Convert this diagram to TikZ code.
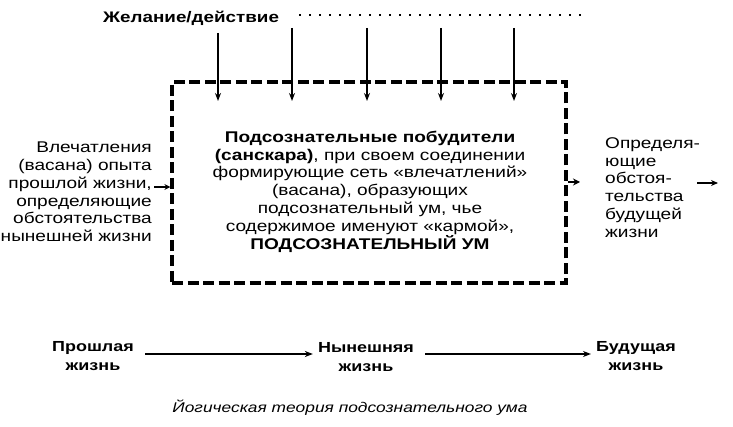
\documentclass[tikz,border=0pt]{standalone}
\usepackage{fontspec}
\setmainfont{Liberation Sans}[FakeStretch=1.23]
\usetikzlibrary{arrows.meta}
\begin{document}
\begin{tikzpicture}[x=1pt,y=-1pt,
  txt/.style={inner sep=0pt, font=\fontsize{15.5}{17.8}\selectfont},
  bld/.style={inner sep=0pt, font=\fontsize{14.6}{19}\selectfont\bfseries},
  dashbox/.style={draw, line width=3.2pt, dash pattern=on 11pt off 4.5pt, inner sep=0pt},
  arr/.style={line width=1.3pt, -{Stealth[length=8pt,width=6pt]}},
  dotline/.style={line width=2pt, dash pattern=on 1.6pt off 8.4pt},
]
\useasboundingbox (0,0) rectangle (733,427);
% title and dotted line
\node[inner sep=0pt, font=\fontsize{15.3}{19}\selectfont\bfseries, anchor=west] (title) at (103,18) {Желание/действие};
\coordinate (dl) at (299,15);
\coordinate (dr) at (588,15);
\draw[dotline] (dl) -- (dr);
% main box
\node[dashbox, minimum width=394pt, minimum height=201pt] (box) at (369,182.5) {};
% arrows from above
\coordinate (s1) at (218,33);  \coordinate (e1) at (218,101);
\coordinate (s2) at (292,28);  \coordinate (e2) at (292,101);
\coordinate (s3) at (367,28);  \coordinate (e3) at (367,101);
\coordinate (s4) at (441,28);  \coordinate (e4) at (441,101);
\coordinate (s5) at (514,28);  \coordinate (e5) at (514,101);
\foreach \i in {1,...,5} {\draw[arr] (s\i) -- (e\i);}
% centre text
\node[txt, align=center] (mid) at (370,191.5)
  {{\bfseries Подсознательные побудители}\\
   {\bfseries (санскара)}, при своем соединении\\
   формирующие сеть «влечатлений»\\
   (васана), образующих\\
   подсознательный ум, чье\\
   содержимое именуют «кармой»,\\
   {\bfseries ПОДСОЗНАТЕЛЬНЫЙ УМ}};
% left text
\node[txt, align=right, anchor=east] (left) at (152,192)
  {Влечатления\\
   (васана) опыта\\
   прошлой жизни,\\
   определяющие\\
   обстоятельства\\
   нынешней жизни};
\coordinate (la) at (154,187);
\draw[arr, line width=1.1pt, -{Stealth[length=6pt,width=6pt]}] (la) -- (la -| box.west);
% right text
\node[txt, align=left, anchor=west] (right) at (605,187.5)
  {Определя-\\
   ющие\\
   обстоя-\\
   тельства\\
   будущей\\
   жизни};
\coordinate (ra) at (580,182);
\draw[arr, line width=1.1pt, -{Stealth[length=7pt,width=7pt]}] (ra -| box.east) -- (ra);
\coordinate (fa1) at (697,183);
\coordinate (fa2) at (718,183);
\draw[arr, line width=1.3pt, -{Stealth[length=7pt,width=6pt]}] (fa1) -- (fa2);
% bottom timeline
\node[bld, align=center] (past) at (93,356.5) {Прошлая\\жизнь};
\node[bld, align=center] (now) at (366,357.5) {Нынешняя\\жизнь};
\node[bld, align=center] (fut) at (636,356) {Будущая\\жизнь};
\draw[arr, shorten <=11pt, shorten >=5pt] ([yshift=2.5pt]past.east) -- ([yshift=2.5pt]past.east -| now.west);
\draw[arr, shorten <=11pt, shorten >=5pt] ([yshift=3.5pt]now.east) -- ([yshift=3.5pt]now.east -| fut.west);
% caption
\node[inner sep=0pt, font=\fontsize{14.1}{17}\selectfont\itshape] (cap) at (350,408) {Йогическая теория подсознательного ума};
\end{tikzpicture}
\end{document}
